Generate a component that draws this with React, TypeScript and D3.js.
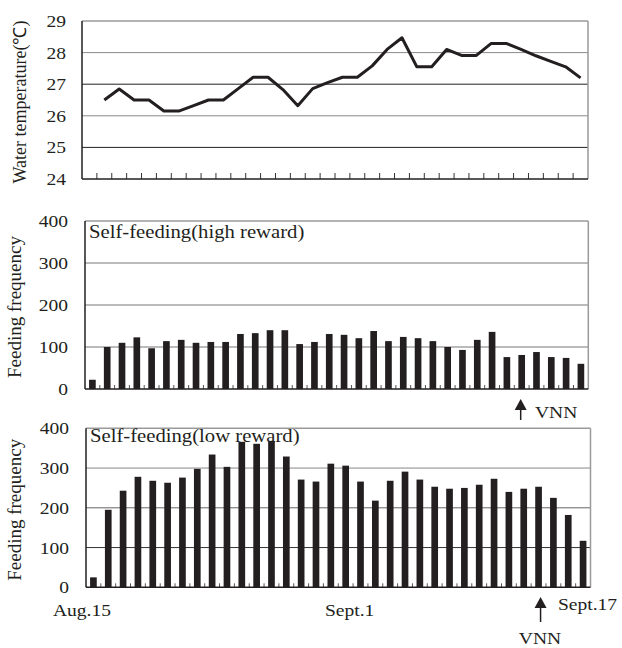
import React from "react";
import * as d3 from "d3";

// one category per day, Aug.15 .. Sept.17
const days = [
  "8/15", "8/16", "8/17", "8/18", "8/19", "8/20", "8/21", "8/22", "8/23", "8/24",
  "8/25", "8/26", "8/27", "8/28", "8/29", "8/30", "8/31", "9/1", "9/2", "9/3",
  "9/4", "9/5", "9/6", "9/7", "9/8", "9/9", "9/10", "9/11", "9/12", "9/13",
  "9/14", "9/15", "9/16", "9/17",
];

// water temperature starts on Aug.16
const tempDays = days.slice(1);
const waterTemp = [
  26.5, 26.85, 26.5, 26.5, 26.15, 26.15, 26.32, 26.5, 26.5, 26.86,
  27.22, 27.22, 26.83, 26.32, 26.86, 27.05, 27.22, 27.22, 27.58, 28.1,
  28.47, 27.55, 27.55, 28.1, 27.91, 27.91, 28.29, 28.29, 28.1, 27.9,
  27.72, 27.55, 27.2,
];

const highReward = [
  22, 100, 110, 123, 97, 114, 117, 110, 112, 112,
  131, 133, 140, 140, 107, 112, 131, 129, 121, 138,
  114, 124, 121, 114, 100, 93, 117, 136, 76, 81,
  88, 76, 74, 60,
];

const lowReward = [
  25, 195, 243, 278, 268, 263, 276, 298, 334, 303,
  366, 361, 368, 329, 271, 266, 311, 306, 266, 218,
  268, 291, 271, 253, 248, 250, 258, 273, 240, 248,
  253, 225, 182, 117,
];

const tempTicks = [24, 25, 26, 27, 28, 29];
const freqTicks = [0, 100, 200, 300, 400];

const FONT = "'Liberation Serif', 'Times New Roman', serif";
const SX = 1.15; // the original figure is stretched a little horizontally

function T({
  x, y, size = 17, anchor = "start", children,
}: { x: number; y: number; size?: number; anchor?: string; children: React.ReactNode }) {
  return (
    <text
      transform={`translate(${x},${y}) scale(${SX},1)`}
      fontFamily={FONT}
      fontSize={size}
      textAnchor={anchor as any}
      fill="#231f20"
    >
      {children}
    </text>
  );
}

function Frame({ left, right, top, bottom }: { left: number; right: number; top: number; bottom: number }) {
  return (
    <g>
      <line x1={left} x2={right} y1={top} y2={top} stroke="#9a9a9a" strokeWidth={1.5} />
      <line x1={right} x2={right} y1={top} y2={bottom} stroke="#9a9a9a" strokeWidth={1.5} />
      <line x1={left} x2={left} y1={top} y2={bottom} stroke="#231f20" strokeWidth={1.5} />
      <line x1={left} x2={right} y1={bottom} y2={bottom} stroke="#231f20" strokeWidth={1.5} />
    </g>
  );
}

function Arrow({ x, y1, y2 }: { x: number; y1: number; y2: number }) {
  // y1 = tip, y2 = tail end
  return (
    <g>
      <line x1={x} x2={x} y1={y1 + 8} y2={y2} stroke="#231f20" strokeWidth={1.5} />
      <path d={`M${x},${y1} L${x - 6},${y1 + 11} L${x + 6},${y1 + 11} Z`} fill="#231f20" />
    </g>
  );
}

function TempPanel() {
  const left = 82, right = 588, top = 21, bottom = 179;
  const x = d3.scaleBand<string>().domain(days).range([left, right]);
  const y = d3.scaleLinear().domain([24, 29]).range([bottom, top]);
  const line = d3
    .line<number>()
    .x((_, i) => (x(tempDays[i]) as number) + x.bandwidth() / 2)
    .y((d) => y(d));
  const gridCol = ["", "#222", "#8a8a8a", "#222", "#8a8a8a", ""];
  return (
    <g>
      {tempTicks.slice(1, -1).map((t, i) => (
        <line key={t} x1={left} x2={right} y1={y(t)} y2={y(t)} stroke={gridCol[i + 1]} strokeWidth={1} />
      ))}
      {days.slice(1).map((d) => (
        <line key={d} x1={x(d)} x2={x(d)} y1={bottom} y2={bottom - 6} stroke="#333" strokeWidth={1} />
      ))}
      <Frame left={left} right={right} top={top} bottom={bottom} />
      <path d={line(waterTemp) || ""} fill="none" stroke="#231f20" strokeWidth={3} strokeLinejoin="round" />
      {tempTicks.map((t) => (
        <T key={t} x={left - 16} y={y(t) + 6} anchor="end">{t}</T>
      ))}
      <text
        transform={`translate(26,${(top + bottom) / 2 + 2}) rotate(-90)`}
        fontFamily={FONT}
        fontSize={18}
        textAnchor="middle"
        fill="#231f20"
      >
        Water temperature(℃)
      </text>
    </g>
  );
}

function BarPanel({
  values, left, right, top, bottom, title, titleY, gridCol,
}: {
  values: number[]; left: number; right: number; top: number; bottom: number;
  title: string; titleY: number; gridCol: string[];
}) {
  const x = d3.scaleBand<string>().domain(days).range([left, right]).paddingInner(0.55).paddingOuter(0.275);
  const xb = d3.scaleBand<string>().domain(days).range([left, right]);
  const y = d3.scaleLinear().domain([0, 400]).range([bottom, top]);
  return (
    <g>
      {freqTicks.slice(1, -1).map((t, i) => (
        <line key={t} x1={left} x2={right} y1={y(t)} y2={y(t)} stroke={gridCol[i]} strokeWidth={1} />
      ))}
      {days.slice(1).map((d) => (
        <line key={d} x1={xb(d)} x2={xb(d)} y1={bottom} y2={bottom - 4} stroke="#555" strokeWidth={1} />
      ))}
      <Frame left={left} right={right} top={top} bottom={bottom} />
      {values.map((v, i) => (
        <rect
          key={days[i]}
          x={x(days[i])}
          width={x.bandwidth()}
          y={y(v)}
          height={bottom - y(v)}
          fill="#231f20"
        />
      ))}
      <T x={left + 4} y={titleY} size={18}>{title}</T>
      {freqTicks.map((t) => (
        <T key={t} x={left - 17} y={y(t) + 6} anchor="end">{t}</T>
      ))}
      <text
        transform={`translate(21,${(top + bottom) / 2 + 2}) rotate(-90)`}
        fontFamily={FONT}
        fontSize={19}
        textAnchor="middle"
        fill="#231f20"
      >
        Feeding frequency
      </text>
    </g>
  );
}

export default function App() {
  const midLeft = 85, midRight = 588.3;
  const lowLeft = 86, lowRight = 590.5;
  const xMid = d3.scaleBand<string>().domain(days).range([midLeft, midRight]);
  const xLow = d3.scaleBand<string>().domain(days).range([lowLeft, lowRight]);
  const vnnMid = (xMid("9/13") as number) + xMid.bandwidth() / 2 - 1;
  const vnnLow = (xLow("9/14") as number) + xLow.bandwidth() / 2 + 2;
  return (
    <svg width={622} height={648} style={{ position: "absolute", left: 0, top: 0, background: "#fff" }}>
      <TempPanel />
      <BarPanel
        values={highReward}
        left={midLeft}
        right={midRight}
        top={221}
        bottom={389}
        title="Self-feeding(high reward)"
        titleY={238}
        gridCol={["#777", "#777", "#777"]}
      />
      <BarPanel
        values={lowReward}
        left={lowLeft}
        right={lowRight}
        top={428.3}
        bottom={587.3}
        title="Self-feeding(low reward)"
        titleY={442}
        gridCol={["#333", "#666", "#888"]}
      />
      <Arrow x={vnnMid} y1={399} y2={420} />
      <T x={535} y={418}>VNN</T>
      <Arrow x={vnnLow} y1={597} y2={622} />
      <T x={lowLeft - 4} y={616} anchor="middle">Aug.15</T>
      <T x={(xLow("9/1") as number) + xLow.bandwidth() / 2 + 4} y={616} anchor="middle">Sept.1</T>
      <T x={lowRight - 3} y={610} anchor="middle">Sept.17</T>
      <T x={540} y={644} anchor="middle">VNN</T>
    </svg>
  );
}
